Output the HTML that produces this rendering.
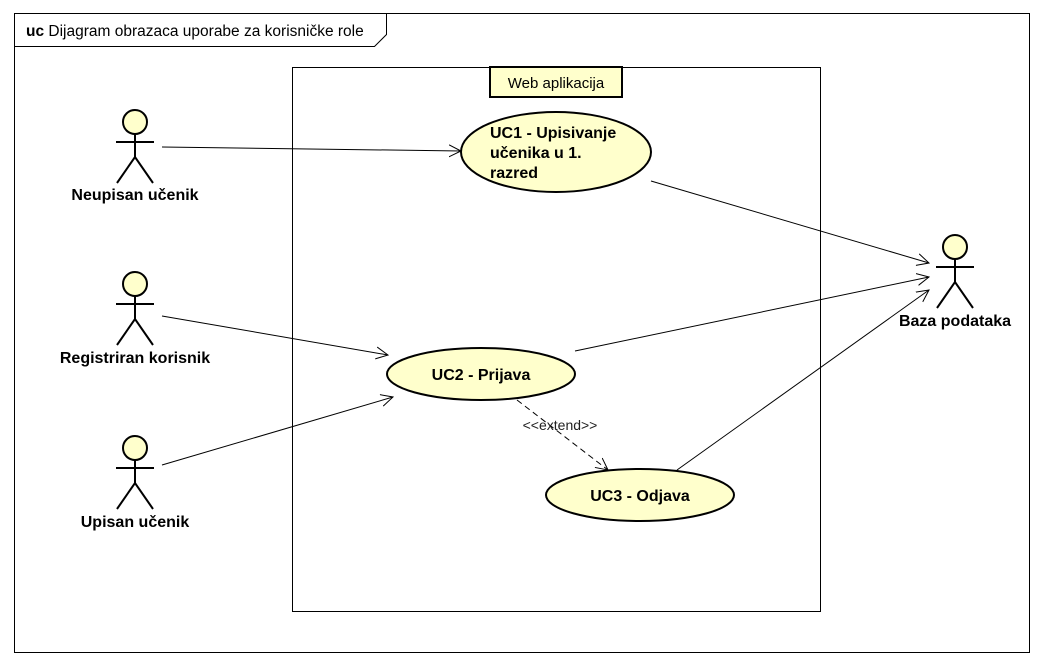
<!DOCTYPE html>
<html><head><meta charset="utf-8"><style>
html,body{margin:0;padding:0;background:#fff;}
svg{display:block;}
text{font-family:"Liberation Sans",sans-serif;}
</style></head><body>
<svg width="1044" height="665" viewBox="0 0 1044 665" xmlns="http://www.w3.org/2000/svg">
<defs>
<marker id="oa" markerWidth="14" markerHeight="14" refX="12" refY="7" orient="auto" markerUnits="userSpaceOnUse">
<path d="M0,1 L12,7 L0,13" fill="none" stroke="#000" stroke-width="1"/>
</marker>
</defs>
<rect x="14.5" y="13.5" width="1015" height="639" fill="#fff" stroke="#000"/>
<path d="M14.5,46.5 L374.5,46.5 L386.5,34.5 L386.5,13.5" fill="none" stroke="#000"/>
<text x="26" y="36" font-size="15.5"><tspan font-weight="bold">uc</tspan> Dijagram obrazaca uporabe za korisničke role</text>

<rect x="292.5" y="67.5" width="528" height="544" fill="#fff" stroke="#000"/>
<rect x="490" y="67" width="132" height="30" fill="#ffffcc" stroke="#000" stroke-width="2"/>
<text x="556" y="88" font-size="15" text-anchor="middle">Web aplikacija</text>

<g stroke="#000" stroke-width="1" fill="none">
<line x1="162" y1="147" x2="461" y2="151" marker-end="url(#oa)"/>
<line x1="651" y1="181" x2="929" y2="263" marker-end="url(#oa)"/>
<line x1="162" y1="316" x2="388" y2="355" marker-end="url(#oa)"/>
<line x1="162" y1="465" x2="393" y2="397" marker-end="url(#oa)"/>
<line x1="575" y1="351" x2="929" y2="277" marker-end="url(#oa)"/>
<line x1="677" y1="470" x2="929" y2="290" marker-end="url(#oa)"/>
<line x1="517" y1="400" x2="608" y2="470" stroke-dasharray="6,4" marker-end="url(#oa)"/>
</g>
<text x="560" y="430" font-size="14" text-anchor="middle" fill="#222">&lt;&lt;extend&gt;&gt;</text>

<g fill="#ffffcc" stroke="#000" stroke-width="2">
<ellipse cx="556" cy="152" rx="95" ry="40"/>
<ellipse cx="481" cy="374" rx="94" ry="26"/>
<ellipse cx="640" cy="495" rx="94" ry="26"/>
</g>
<g font-size="16" font-weight="bold">
<text x="490" y="138">UC1 - Upisivanje</text>
<text x="490" y="158">učenika u 1.</text>
<text x="490" y="178">razred</text>
<text x="481" y="380" text-anchor="middle">UC2 - Prijava</text>
<text x="640" y="501" text-anchor="middle">UC3 - Odjava</text>
</g>

<g stroke="#000" stroke-width="2" fill="#ffffcc">
<g transform="translate(135,122)">
<circle cx="0" cy="0" r="12"/><path d="M0,12 V35 M-19,20 H19 M-18,61 L0,35 L18,61" fill="none"/>
</g>
<g transform="translate(135,284)">
<circle cx="0" cy="0" r="12"/><path d="M0,12 V35 M-19,20 H19 M-18,61 L0,35 L18,61" fill="none"/>
</g>
<g transform="translate(135,448)">
<circle cx="0" cy="0" r="12"/><path d="M0,12 V35 M-19,20 H19 M-18,61 L0,35 L18,61" fill="none"/>
</g>
<g transform="translate(955,247)">
<circle cx="0" cy="0" r="12"/><path d="M0,12 V35 M-19,20 H19 M-18,61 L0,35 L18,61" fill="none"/>
</g>
</g>
<g font-size="16" font-weight="bold" text-anchor="middle">
<text x="135" y="200">Neupisan učenik</text>
<text x="135" y="363">Registriran korisnik</text>
<text x="135" y="527">Upisan učenik</text>
<text x="955" y="326">Baza podataka</text>
</g>
</svg>
</body></html>
